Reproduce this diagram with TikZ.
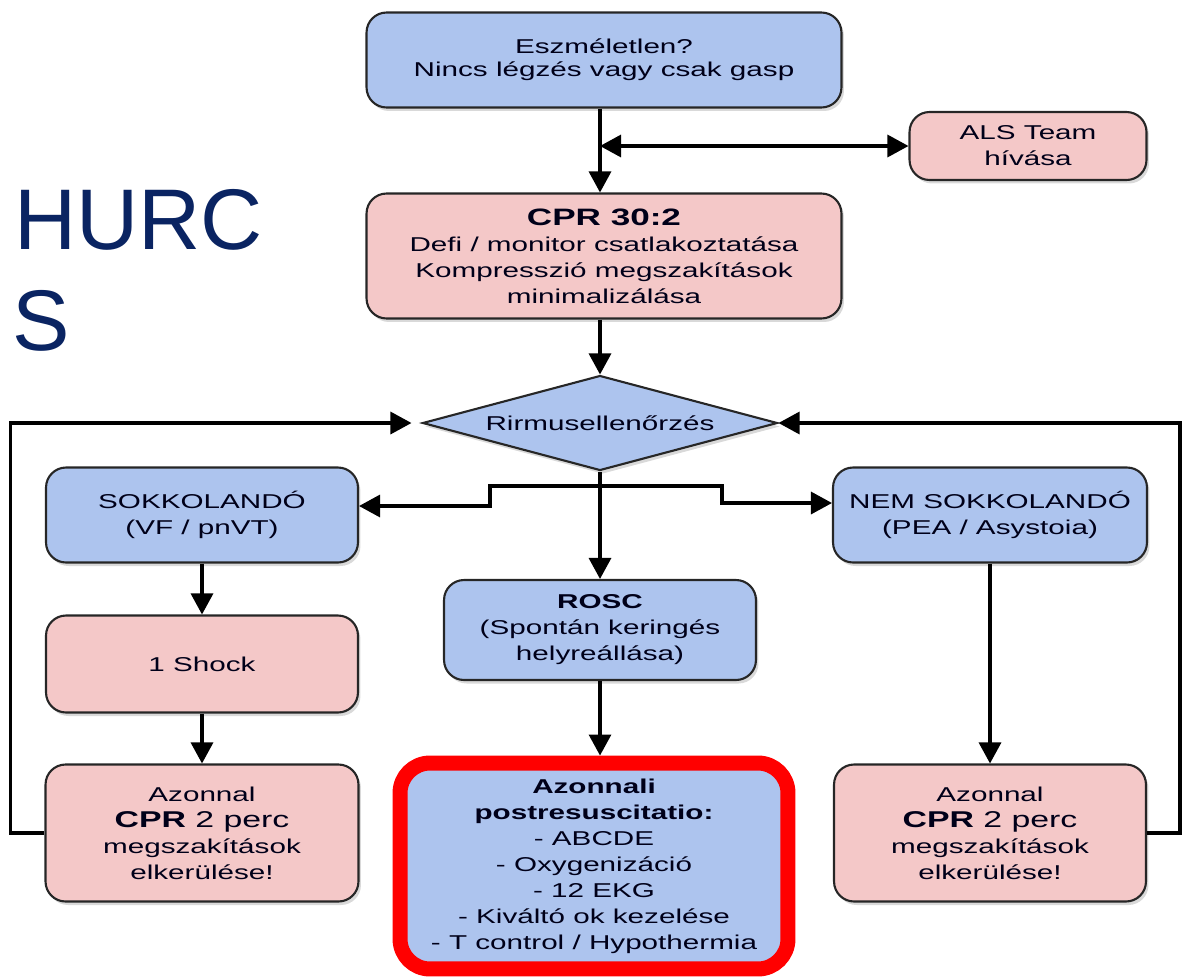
\documentclass[tikz,border=0pt]{standalone}
\usepackage{fontspec}
\setmainfont{Liberation Sans}
\newfontfamily\chartfont[FakeStretch=1.48]{Liberation Sans}
\usetikzlibrary{shapes.geometric,arrows.meta,shadows}
\definecolor{boxblue}{RGB}{173,196,238}
\definecolor{boxpink}{RGB}{244,200,200}
\definecolor{slidenavy}{RGB}{10,36,98}

\begin{document}
\begin{tikzpicture}[x=0.02cm,y=-0.02cm] % one unit = one pixel of the slide, y grows downwards
\tikzset{plain/.style={draw=black!85, line width=1.2pt, rounded corners=0.4cm, align=center, inner sep=0pt, text=black!90!blue, font=\chartfont\fontsize{11.4}{14.8}\selectfont}} % common look of the boxes
\tikzset{box/.style={plain, drop shadow={shadow xshift=0.05cm, shadow yshift=-0.07cm, opacity=0.3}}}
\tikzset{bluebox/.style={box, fill=boxblue}, pinkbox/.style={box, fill=boxpink}}
\tikzset{arr/.style={line width=1.8pt, -{Triangle[length=0.42cm,width=0.44cm]}}}
\useasboundingbox (0,0) rectangle (1182,977);
\clip (0,0) rectangle (1182,977);

% slide title, cut by the diagram
\node[anchor=base west, text=slidenavy, font=\fontsize{49}{55}\selectfont] (title) at (8,249) {HURC};
\node[anchor=base west, text=slidenavy, font=\fontsize{49}{55}\selectfont] (titletail) at (6,350) {S};

% boxes
\node[bluebox, minimum width=9.5cm, minimum height=1.9cm] (unconscious) at (604,60) {Eszméletlen?\\[-1.5pt]Nincs légzés vagy csak gasp};
\node[pinkbox, minimum width=4.74cm, minimum height=1.36cm] (als) at (1028,146) {ALS Team\\hívása};
\node[pinkbox, minimum width=9.5cm, minimum height=2.5cm] (cpr) at (604,256) {{\fontsize{13.5}{15}\selectfont\bfseries CPR 30:2}\\Defi / monitor csatlakoztatása\\Kompresszió megszakítások\\minimalizálása};
\node[bluebox, diamond, aspect=3.7, rounded corners=0pt, minimum width=7.1cm, minimum height=1.9cm] (rhythm) at (600,423) {Rirmusellenőrzés};
\node[bluebox, minimum width=6.24cm, minimum height=1.9cm] (shockable) at (202,515) {SOKKOLANDÓ\\(VF / pnVT)};
\node[pinkbox, minimum width=6.24cm, minimum height=1.94cm] (shock) at (202,664) {1 Shock};
\node[pinkbox, minimum width=6.26cm, minimum height=2.74cm] (cprleft) at (202,833) {Azonnal\\{\fontsize{13}{15}\selectfont\textbf{CPR} 2 perc}\\megszakítások\\elkerülése!};
\node[bluebox, minimum width=6.24cm, minimum height=2cm] (rosc) at (600,630) {\textbf{ROSC}\\(Spontán keringés\\helyreállása)};
\node[bluebox, minimum width=6.28cm, minimum height=1.9cm] (nonshock) at (990,515) {NEM SOKKOLANDÓ\\(PEA / Asystoia)};
\node[pinkbox, minimum width=6.24cm, minimum height=2.74cm] (cprright) at (990,833) {Azonnal\\{\fontsize{13}{15}\selectfont\textbf{CPR} 2 perc}\\megszakítások\\elkerülése!};
\node[plain, fill=boxblue, draw=red, line width=0.3cm, rounded corners=0.6cm, minimum width=7.76cm, minimum height=4.12cm] (post) at (594,866) {\textbf{Azonnali}\\\textbf{postresuscitatio:}\\- ABCDE\\- Oxygenizáció\\- 12 EKG\\- Kiváltó ok kezelése\\- T control / Hypothermia};

% connectors
\draw[arr] (rhythm.north |- unconscious.south) -- (rhythm.north |- cpr.north);
\coordinate (callpoint) at (rhythm.north |- als.west);
\draw[line width=1.8pt, {Triangle[length=0.42cm,width=0.44cm]}-{Triangle[length=0.42cm,width=0.44cm]}] (callpoint) -- (als.west);
\draw[arr] (rhythm.north |- cpr.south) -- (rhythm.north);
\draw[arr] (rhythm.south) -- (rosc.north);
\coordinate (split) at (600,486);
\draw[arr] (split) -- (490,486) |- ([yshift=0.18cm]shockable.east);
\draw[arr] (split) -- (722,486) |- ([yshift=0.24cm]nonshock.west);
\draw[arr] (shockable.south) -- (shock.north);
\draw[arr] (shock.south) -- (cprleft.north);
\draw[arr, shorten >=0.2cm] (cprleft.west) -- ++(-34,0) |- (rhythm.west); % back to rhythm check
\draw[arr] (nonshock.south) -- (cprright.north);
\draw[arr] (cprright.east) -- ++(33,0) |- (rhythm.east);
\draw[arr] (rosc.south) -- (rosc.south |- post.north);
\end{tikzpicture}
\end{document}
